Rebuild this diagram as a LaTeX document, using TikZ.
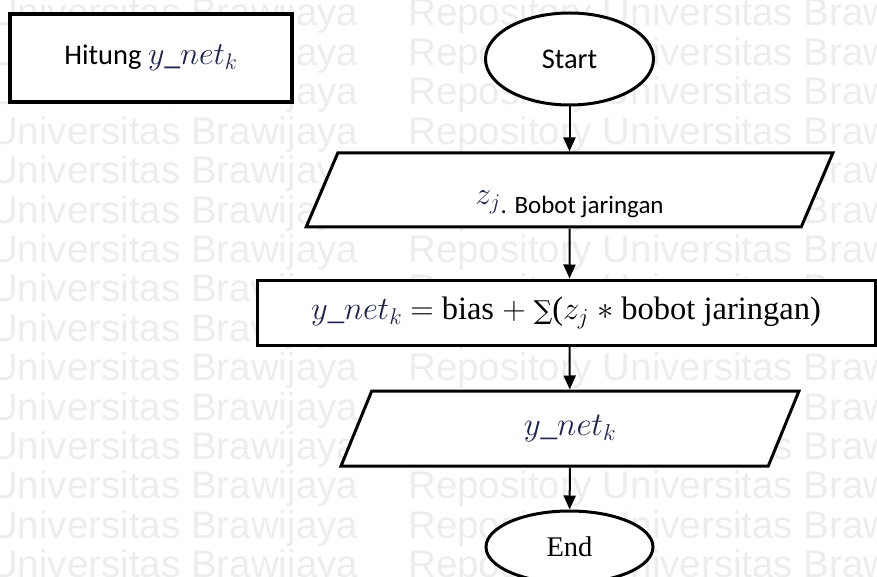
\RequirePackage{fix-cm}
\documentclass[tikz,border=0pt]{standalone}
\usepackage{fontspec}
\setmainfont{Liberation Serif}
\newfontfamily\calibrifont{Carlito}
\newfontfamily\wmfont{Liberation Sans}
\newfontfamily\sumfont{DejaVu Serif}
\usetikzlibrary{shapes.geometric,arrows.meta}
\definecolor{mathink}{RGB}{30,35,80}

\begin{document}
\begin{tikzpicture}[x=1pt, y=-1pt,
    wmark/.style={text=black!7, font=\wmfont\fontsize{38.5}{40}\selectfont, anchor=base west, inner sep=0pt},
    terminal/.style={ellipse, draw=black, line width=3pt, fill=white, inner sep=0pt},
    io/.style={trapezium, trapezium left angle=75, trapezium right angle=105, trapezium stretches=true, draw=black, line width=3pt, fill=white, inner sep=0pt},
    process/.style={rectangle, draw=black, line width=3pt, fill=white, inner sep=0pt},
    flow/.style={line width=2pt, -{Triangle[length=14pt,width=12pt]}}]
      \useasboundingbox (0,0) rectangle (877,577);

      % background rows
      \foreach \k in {0,...,14} {
        \node[wmark] (wmL\k) at (-10,{26+39.4*\k}) {Universitas Brawijaya};
        \node[wmark] (wmR\k) at (408,{26+39.4*\k}) {Repository Universitas Brawijaya};
      }

      \node[process, line width=4.5pt, minimum width=282pt, minimum height=88pt] (hitung) at (151,58)
        {\calibrifont\fontsize{28.5}{34}\selectfont Hitung {\fontsize{32}{36}\selectfont\textcolor{mathink}{$y\_net_k$}}};

      \node[terminal, minimum width=168pt, minimum height=92pt] (start) at (569.5,59)
        {\calibrifont\fontsize{28.5}{34}\selectfont Start};

      \node[io, minimum width=527pt, minimum height=74pt, text height=48pt, text depth=0pt] (p1) at (569.5,190)
        {\fontsize{32}{34}\selectfont\raisebox{9pt}{\textcolor{mathink}{$z_j$}}\calibrifont\fontsize{25}{30}\selectfont. Bobot jaringan};

      \node[process, minimum width=618pt, minimum height=65pt] (sum) at (566,312.5)
        {\fontsize{32.5}{36}\selectfont\textcolor{mathink}{$y\_net_k$} $=$ bias $+$ {\sumfont\fontsize{26}{30}\selectfont ∑}($z_j$ $\ast$ bobot jaringan)};

      \node[io, minimum width=458pt, minimum height=75pt] (p2) at (570,428.5)
        {\fontsize{33}{36}\selectfont\textcolor{mathink}{$y\_net_k$}};

      \node[terminal, minimum width=167pt, minimum height=72pt] (end) at (569.5,547)
        {\fontsize{28.5}{34}\selectfont End};

      \draw[flow] (start) -- (p1);
      \draw[flow] (p1) -- (p1 |- sum.north);
      \draw[flow] (p1 |- sum.south) -- (p2);
      \draw[flow] (p2) -- (end);
    \end{tikzpicture}
\end{document}
